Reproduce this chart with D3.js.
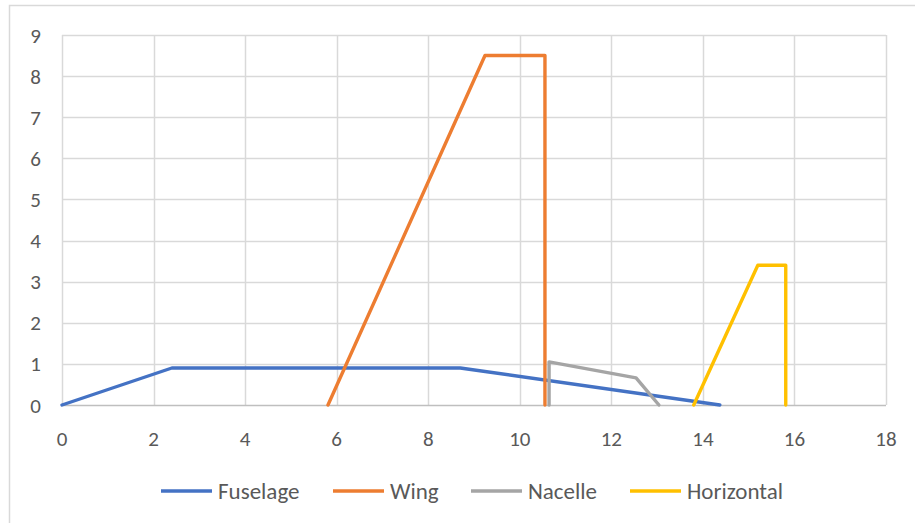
<!DOCTYPE html>
<html>
<head>
<meta charset="utf-8">
<script src="https://cdn.jsdelivr.net/npm/d3@7/dist/d3.min.js"></script>
<style>
  html, body { margin: 0; padding: 0; background: #fff; }
  svg { display: block; }
</style>
</head>
<body>
<svg id="chart" width="915" height="523"></svg>
<script>
// Planform segments: [x, y] vertices for each component
const fuselage   = [[0, 0], [2.4, 0.9], [8.7, 0.9], [14.37, 0]];
const wing       = [[5.81, 0], [9.24, 8.5], [10.55, 8.5], [10.55, 0]];
const nacelle    = [[10.64, 0], [10.64, 1.05], [12.54, 0.66], [13.04, 0]];
const horizontal = [[13.8, 0], [15.2, 3.4], [15.81, 3.4], [15.81, 0]];

const seriesNames  = ["Fuselage", "Wing", "Nacelle", "Horizontal"];
const seriesColors = ["#4472C4", "#ED7D31", "#A5A5A5", "#FFC000"];
const seriesData   = [fuselage, wing, nacelle, horizontal];

const xTicks = [0, 2, 4, 6, 8, 10, 12, 14, 16, 18];
const yTicks = [0, 1, 2, 3, 4, 5, 6, 7, 8, 9];

const svg = d3.select("#chart");
const font = "Carlito, Lato, 'Open Sans', sans-serif";

// outer chart frame
svg.append("rect")
  .attr("x", 9.5).attr("y", 5.5)
  .attr("width", 930).attr("height", 540)
  .attr("fill", "#fff").attr("stroke", "#D9D9D9").attr("stroke-width", 1.5);

const plot = { left: 62, right: 886, top: 35, bottom: 405 };
const x = d3.scaleLinear().domain([0, 18]).range([plot.left, plot.right]);
const y = d3.scaleLinear().domain([0, 9]).range([plot.bottom, plot.top]);

// gridlines
const grid = svg.append("g");
grid.selectAll("line.v").data(xTicks).join("line")
  .attr("x1", d => Math.round(x(d)) + 0.5).attr("x2", d => Math.round(x(d)) + 0.5)
  .attr("y1", plot.top).attr("y2", plot.bottom)
  .attr("stroke", "#D9D9D9").attr("stroke-width", 1.5);
grid.selectAll("line.h").data(yTicks.filter(d => d > 0)).join("line")
  .attr("y1", d => Math.round(y(d)) + 0.5).attr("y2", d => Math.round(y(d)) + 0.5)
  .attr("x1", plot.left).attr("x2", plot.right)
  .attr("stroke", "#D9D9D9").attr("stroke-width", 1.5);

// x axis baseline
svg.append("line")
  .attr("x1", plot.left).attr("x2", plot.right)
  .attr("y1", plot.bottom + 0.5).attr("y2", plot.bottom + 0.5)
  .attr("stroke", "#BFBFBF").attr("stroke-width", 1.5);

// tick labels
svg.append("g").selectAll("text").data(xTicks).join("text")
  .attr("x", d => x(d)).attr("y", 446)
  .attr("text-anchor", "middle")
  .attr("font-family", font).attr("font-size", 21).attr("fill", "#595959")
  .text(d => d);
svg.append("g").selectAll("text").data(yTicks).join("text")
  .attr("x", 41).attr("y", d => y(d) + 7.5)
  .attr("text-anchor", "end")
  .attr("font-family", font).attr("font-size", 21).attr("fill", "#595959")
  .text(d => d);

// series lines
const line = d3.line().x(d => x(d[0])).y(d => y(d[1]));
svg.append("g").selectAll("path").data(seriesData).join("path")
  .attr("d", line)
  .attr("fill", "none")
  .attr("stroke", (d, i) => seriesColors[i])
  .attr("stroke-width", 3.4)
  .attr("stroke-linejoin", "round")
  .attr("stroke-linecap", "round");

// legend
const legendX = [161, 333, 471, 630];
const legendY = 491;
const lg = svg.append("g").selectAll("g").data(seriesNames).join("g")
  .attr("transform", (d, i) => `translate(${legendX[i]},${legendY})`);
lg.append("line")
  .attr("x1", 0).attr("x2", 51).attr("y1", 0).attr("y2", 0)
  .attr("stroke", (d, i) => seriesColors[i]).attr("stroke-width", 3.4);
lg.append("text")
  .attr("x", 57).attr("y", 8)
  .attr("font-family", font).attr("font-size", 23).attr("fill", "#595959")
  .text(d => d);
</script>
</body>
</html>
